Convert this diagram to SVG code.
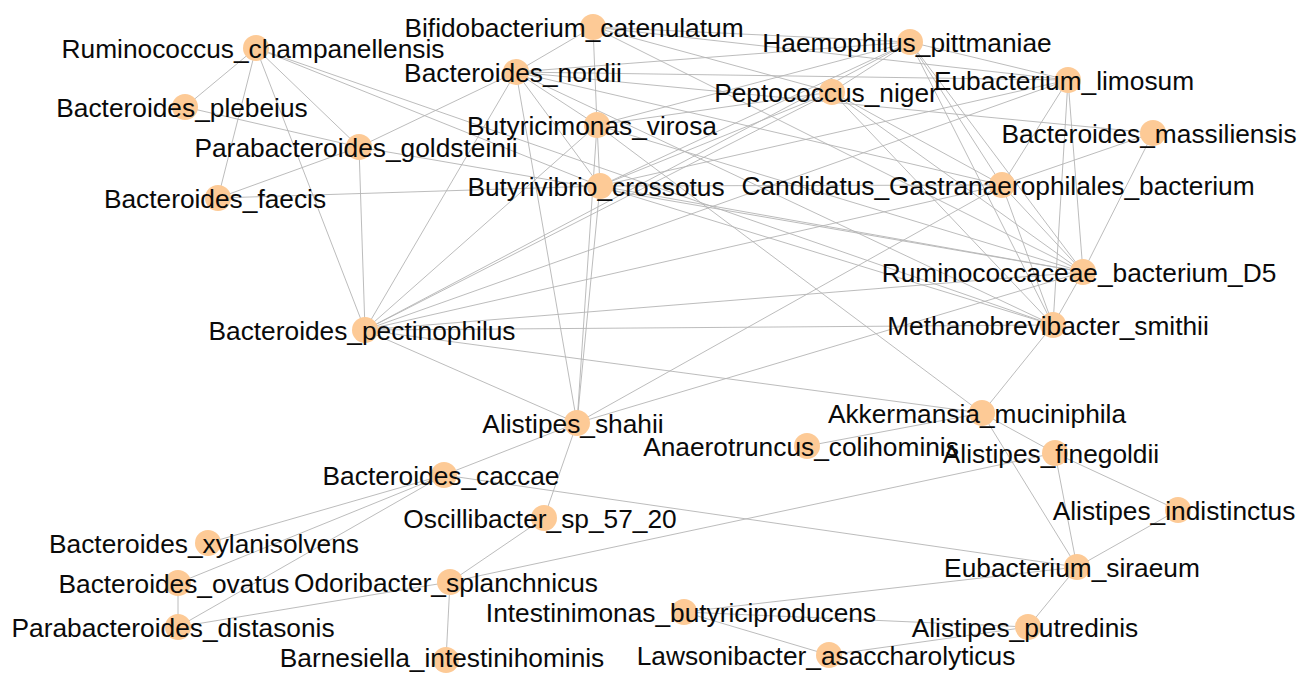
<svg xmlns="http://www.w3.org/2000/svg" width="1301" height="673" viewBox="0 0 1301 673">
<style>
.e{stroke:#b4b4b4;stroke-width:0.9;fill:none}
.n circle{fill:#fdca96}
.n text{font-family:"Liberation Sans",Arial,sans-serif;font-size:26.3px;fill:#0a0a0a;text-anchor:middle}
</style>
<rect width="1301" height="673" fill="#fff"/>
<g id="connectors">
<line class="e" x1="256" y1="48" x2="185" y2="107"/>
<line class="e" x1="256" y1="48" x2="218" y2="198"/>
<line class="e" x1="256" y1="48" x2="365" y2="330"/>
<line class="e" x1="256" y1="48" x2="359" y2="147"/>
<line class="e" x1="256" y1="48" x2="600" y2="186"/>
<line class="e" x1="256" y1="48" x2="1053" y2="325"/>
<line class="e" x1="185" y1="107" x2="359" y2="147"/>
<line class="e" x1="218" y1="198" x2="359" y2="147"/>
<line class="e" x1="218" y1="198" x2="600" y2="186"/>
<line class="e" x1="359" y1="147" x2="516" y2="72"/>
<line class="e" x1="359" y1="147" x2="365" y2="330"/>
<line class="e" x1="359" y1="147" x2="1083" y2="272"/>
<line class="e" x1="365" y1="330" x2="516" y2="72"/>
<line class="e" x1="365" y1="330" x2="597" y2="125"/>
<line class="e" x1="365" y1="330" x2="832" y2="92"/>
<line class="e" x1="365" y1="330" x2="910" y2="42"/>
<line class="e" x1="365" y1="330" x2="1068" y2="80"/>
<line class="e" x1="365" y1="330" x2="1002" y2="185"/>
<line class="e" x1="365" y1="330" x2="1083" y2="272"/>
<line class="e" x1="365" y1="330" x2="1053" y2="325"/>
<line class="e" x1="365" y1="330" x2="982" y2="413"/>
<line class="e" x1="365" y1="330" x2="577" y2="423"/>
<line class="e" x1="593" y1="27" x2="516" y2="72"/>
<line class="e" x1="593" y1="27" x2="597" y2="125"/>
<line class="e" x1="593" y1="27" x2="910" y2="42"/>
<line class="e" x1="593" y1="27" x2="1068" y2="80"/>
<line class="e" x1="593" y1="27" x2="832" y2="92"/>
<line class="e" x1="593" y1="27" x2="1083" y2="272"/>
<line class="e" x1="516" y1="72" x2="597" y2="125"/>
<line class="e" x1="516" y1="72" x2="600" y2="186"/>
<line class="e" x1="516" y1="72" x2="910" y2="42"/>
<line class="e" x1="516" y1="72" x2="1068" y2="80"/>
<line class="e" x1="516" y1="72" x2="1153" y2="133"/>
<line class="e" x1="516" y1="72" x2="1002" y2="185"/>
<line class="e" x1="516" y1="72" x2="1053" y2="325"/>
<line class="e" x1="597" y1="125" x2="600" y2="186"/>
<line class="e" x1="597" y1="125" x2="832" y2="92"/>
<line class="e" x1="597" y1="125" x2="910" y2="42"/>
<line class="e" x1="597" y1="125" x2="1083" y2="272"/>
<line class="e" x1="597" y1="125" x2="982" y2="413"/>
<line class="e" x1="600" y1="186" x2="832" y2="92"/>
<line class="e" x1="600" y1="186" x2="910" y2="42"/>
<line class="e" x1="600" y1="186" x2="1068" y2="80"/>
<line class="e" x1="600" y1="186" x2="1002" y2="185"/>
<line class="e" x1="600" y1="186" x2="1083" y2="272"/>
<line class="e" x1="600" y1="186" x2="1053" y2="325"/>
<line class="e" x1="832" y1="92" x2="910" y2="42"/>
<line class="e" x1="832" y1="92" x2="1002" y2="185"/>
<line class="e" x1="832" y1="92" x2="1083" y2="272"/>
<line class="e" x1="832" y1="92" x2="1053" y2="325"/>
<line class="e" x1="910" y1="42" x2="1068" y2="80"/>
<line class="e" x1="910" y1="42" x2="1002" y2="185"/>
<line class="e" x1="910" y1="42" x2="1083" y2="272"/>
<line class="e" x1="910" y1="42" x2="1053" y2="325"/>
<line class="e" x1="1068" y1="80" x2="1002" y2="185"/>
<line class="e" x1="1068" y1="80" x2="1083" y2="272"/>
<line class="e" x1="1068" y1="80" x2="1053" y2="325"/>
<line class="e" x1="1153" y1="133" x2="1002" y2="185"/>
<line class="e" x1="1153" y1="133" x2="1083" y2="272"/>
<line class="e" x1="1002" y1="185" x2="1083" y2="272"/>
<line class="e" x1="1002" y1="185" x2="1053" y2="325"/>
<line class="e" x1="1083" y1="272" x2="1053" y2="325"/>
<line class="e" x1="1053" y1="325" x2="982" y2="413"/>
<line class="e" x1="577" y1="423" x2="516" y2="72"/>
<line class="e" x1="577" y1="423" x2="597" y2="125"/>
<line class="e" x1="577" y1="423" x2="600" y2="186"/>
<line class="e" x1="577" y1="423" x2="1002" y2="185"/>
<line class="e" x1="577" y1="423" x2="1083" y2="272"/>
<line class="e" x1="577" y1="423" x2="444" y2="475"/>
<line class="e" x1="577" y1="423" x2="544" y2="518"/>
<line class="e" x1="444" y1="475" x2="208" y2="543"/>
<line class="e" x1="444" y1="475" x2="178" y2="583"/>
<line class="e" x1="444" y1="475" x2="178" y2="627"/>
<line class="e" x1="444" y1="475" x2="1077" y2="567"/>
<line class="e" x1="178" y1="583" x2="178" y2="627"/>
<line class="e" x1="178" y1="627" x2="450" y2="582"/>
<line class="e" x1="450" y1="582" x2="446" y2="660"/>
<line class="e" x1="450" y1="582" x2="544" y2="518"/>
<line class="e" x1="450" y1="582" x2="1055" y2="453"/>
<line class="e" x1="684" y1="612" x2="1077" y2="567"/>
<line class="e" x1="684" y1="612" x2="829" y2="655"/>
<line class="e" x1="684" y1="612" x2="1028" y2="627"/>
<line class="e" x1="829" y1="655" x2="1028" y2="627"/>
<line class="e" x1="1077" y1="567" x2="1028" y2="627"/>
<line class="e" x1="1077" y1="567" x2="1178" y2="510"/>
<line class="e" x1="1077" y1="567" x2="1055" y2="453"/>
<line class="e" x1="1077" y1="567" x2="982" y2="413"/>
<line class="e" x1="1055" y1="453" x2="1178" y2="510"/>
<line class="e" x1="982" y1="413" x2="1055" y2="453"/>
<line class="e" x1="807" y1="446" x2="982" y2="413"/>
</g>
<g id="n-ruminococcus-champanellensis" class="n"><circle cx="256" cy="48" r="13"/><text x="253" y="58">Ruminococcus_champanellensis</text></g>
<g id="n-bacteroides-plebeius" class="n"><circle cx="185" cy="107" r="13"/><text x="182" y="117">Bacteroides_plebeius</text></g>
<g id="n-parabacteroides-goldsteinii" class="n"><circle cx="359" cy="147" r="13"/><text x="356" y="157">Parabacteroides_goldsteinii</text></g>
<g id="n-bacteroides-faecis" class="n"><circle cx="218" cy="198" r="13"/><text x="215" y="208">Bacteroides_faecis</text></g>
<g id="n-bacteroides-pectinophilus" class="n"><circle cx="365" cy="330" r="13"/><text x="362" y="340">Bacteroides_pectinophilus</text></g>
<g id="n-bifidobacterium-catenulatum" class="n"><circle cx="593" cy="27" r="13"/><text x="574" y="37">Bifidobacterium_catenulatum</text></g>
<g id="n-bacteroides-nordii" class="n"><circle cx="516" cy="72" r="13"/><text x="513" y="82">Bacteroides_nordii</text></g>
<g id="n-butyricimonas-virosa" class="n"><circle cx="597" cy="125" r="13"/><text x="592" y="135">Butyricimonas_virosa</text></g>
<g id="n-butyrivibrio-crossotus" class="n"><circle cx="600" cy="186" r="13"/><text x="596" y="196">Butyrivibrio_crossotus</text></g>
<g id="n-peptococcus-niger" class="n"><circle cx="832" cy="92" r="13"/><text x="826" y="102">Peptococcus_niger</text></g>
<g id="n-haemophilus-pittmaniae" class="n"><circle cx="910" cy="42" r="13"/><text x="907" y="52">Haemophilus_pittmaniae</text></g>
<g id="n-eubacterium-limosum" class="n"><circle cx="1068" cy="80" r="13"/><text x="1064" y="90">Eubacterium_limosum</text></g>
<g id="n-bacteroides-massiliensis" class="n"><circle cx="1153" cy="133" r="13"/><text x="1149" y="143">Bacteroides_massiliensis</text></g>
<g id="n-candidatus-gastranaerophilales-bacterium" class="n"><circle cx="1002" cy="185" r="13"/><text x="998" y="195">Candidatus_Gastranaerophilales_bacterium</text></g>
<g id="n-ruminococcaceae-bacterium-d5" class="n"><circle cx="1083" cy="272" r="13"/><text x="1079" y="282">Ruminococcaceae_bacterium_D5</text></g>
<g id="n-methanobrevibacter-smithii" class="n"><circle cx="1053" cy="325" r="13"/><text x="1048" y="335">Methanobrevibacter_smithii</text></g>
<g id="n-alistipes-shahii" class="n"><circle cx="577" cy="423" r="13"/><text x="573" y="433">Alistipes_shahii</text></g>
<g id="n-anaerotruncus-colihominis" class="n"><circle cx="807" cy="446" r="13"/><text x="801" y="456">Anaerotruncus_colihominis</text></g>
<g id="n-akkermansia-muciniphila" class="n"><circle cx="982" cy="413" r="13"/><text x="977" y="423">Akkermansia_muciniphila</text></g>
<g id="n-alistipes-finegoldii" class="n"><circle cx="1055" cy="453" r="13"/><text x="1051" y="463">Alistipes_finegoldii</text></g>
<g id="n-alistipes-indistinctus" class="n"><circle cx="1178" cy="510" r="13"/><text x="1174" y="520">Alistipes_indistinctus</text></g>
<g id="n-eubacterium-siraeum" class="n"><circle cx="1077" cy="567" r="13"/><text x="1072" y="577">Eubacterium_siraeum</text></g>
<g id="n-alistipes-putredinis" class="n"><circle cx="1028" cy="627" r="13"/><text x="1025" y="637">Alistipes_putredinis</text></g>
<g id="n-bacteroides-caccae" class="n"><circle cx="444" cy="475" r="13"/><text x="441" y="485">Bacteroides_caccae</text></g>
<g id="n-oscillibacter-sp-57-20" class="n"><circle cx="544" cy="518" r="13"/><text x="540" y="528">Oscillibacter_sp_57_20</text></g>
<g id="n-bacteroides-xylanisolvens" class="n"><circle cx="208" cy="543" r="13"/><text x="204" y="553">Bacteroides_xylanisolvens</text></g>
<g id="n-bacteroides-ovatus" class="n"><circle cx="178" cy="583" r="13"/><text x="174" y="593">Bacteroides_ovatus</text></g>
<g id="n-odoribacter-splanchnicus" class="n"><circle cx="450" cy="582" r="13"/><text x="446" y="592">Odoribacter_splanchnicus</text></g>
<g id="n-parabacteroides-distasonis" class="n"><circle cx="178" cy="627" r="13"/><text x="173" y="637">Parabacteroides_distasonis</text></g>
<g id="n-barnesiella-intestinihominis" class="n"><circle cx="446" cy="660" r="13"/><text x="442" y="667">Barnesiella_intestinihominis</text></g>
<g id="n-intestinimonas-butyriciproducens" class="n"><circle cx="684" cy="612" r="13"/><text x="681" y="622">Intestinimonas_butyriciproducens</text></g>
<g id="n-lawsonibacter-asaccharolyticus" class="n"><circle cx="829" cy="655" r="13"/><text x="826" y="665">Lawsonibacter_asaccharolyticus</text></g>
</svg>
